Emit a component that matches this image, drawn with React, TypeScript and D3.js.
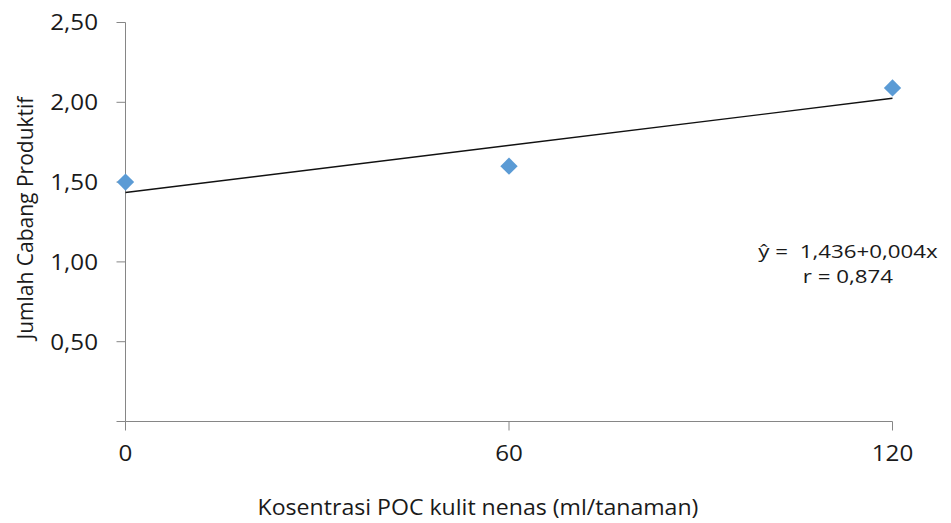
import React, { useEffect, useRef } from 'react';
import * as d3 from 'd3';

const doses = [0, 60, 120];
const branches = [1.5, 1.6, 2.09];
const yTicks = [0, 0.5, 1, 1.5, 2, 2.5];
const xTicks = [0, 60, 120];
const equation = ['ŷ =  1,436+0,004x', 'r = 0,874'];

const width = 951;
const height = 523;

const fmt = (v: number) => (v === 0 ? '0' : d3.format('.2f')(v).replace('.', ','));

export default function App() {
  const svgRef = useRef<SVGSVGElement>(null);

  useEffect(() => {
    if (!svgRef.current) return;
    const svg = d3.select(svgRef.current);
    svg.selectAll('*').remove();

    const font = '"Open Sans", sans-serif';
    const axisColor = '#868686';
    const textColor = '#1a1a1a';

    const x = d3.scaleLinear().domain([0, 120]).range([125.5, 892.5]);
    const y = d3.scaleLinear().domain([0, 2.5]).range([421.5, 22.5]);

    // y axis
    svg.append('line')
      .attr('x1', x(0)).attr('x2', x(0))
      .attr('y1', y(2.5)).attr('y2', y(0))
      .attr('stroke', axisColor);
    yTicks.forEach(t => {
      svg.append('line')
        .attr('x1', x(0) - 9).attr('x2', x(0))
        .attr('y1', y(t)).attr('y2', y(t))
        .attr('stroke', axisColor);
      if (t > 0) {
        svg.append('text')
          .attr('transform', `translate(98,${y(t)}) scale(1.1,1)`)
          .attr('text-anchor', 'end')
          .attr('dy', '0.36em')
          .style('font-family', font)
          .style('font-size', '22px')
          .attr('fill', textColor)
          .text(fmt(t));
      }
    });

    // x axis
    svg.append('line')
      .attr('x1', x(0)).attr('x2', x(120))
      .attr('y1', y(0)).attr('y2', y(0))
      .attr('stroke', axisColor);
    xTicks.forEach(t => {
      svg.append('line')
        .attr('x1', x(t)).attr('x2', x(t))
        .attr('y1', y(0)).attr('y2', y(0) + 9)
        .attr('stroke', axisColor);
      svg.append('text')
        .attr('transform', `translate(${x(t)},453) scale(1.1,1)`)
        .attr('text-anchor', 'middle')
        .attr('dy', '0.36em')
        .style('font-family', font)
        .style('font-size', '22px')
        .attr('fill', textColor)
        .text(String(t));
    });

    // axis titles
    svg.append('text')
      .attr('transform', `translate(478,515) scale(1.1,1)`)
      .attr('text-anchor', 'middle')
      .style('font-family', font)
      .style('font-size', '21px')
      .attr('fill', textColor)
      .text('Kosentrasi POC kulit nenas (ml/tanaman)');

    svg.append('text')
      .attr('transform', 'translate(33,218) rotate(-90)')
      .attr('text-anchor', 'middle')
      .style('font-family', font)
      .style('font-size', '21px')
      .attr('fill', textColor)
      .text('Jumlah Cabang Produktif');

    // trend line (least squares from the points)
    const mx = d3.mean(doses)!;
    const my = d3.mean(branches)!;
    const slope = d3.sum(doses, (d, i) => (d - mx) * (branches[i] - my)) /
      d3.sum(doses, d => (d - mx) ** 2);
    const intercept = my - slope * mx;
    const line = d3.line<number>().x(d => x(d)).y(d => y(intercept + slope * d));
    svg.append('path')
      .attr('d', line([0, 120]))
      .attr('fill', 'none')
      .attr('stroke', '#111')
      .attr('stroke-width', 1.4);

    // points
    const diamond = d3.symbol().type(d3.symbolSquare).size(150);
    svg.selectAll('.pt')
      .data(doses)
      .enter()
      .append('path')
      .attr('class', 'pt')
      .attr('d', diamond()!)
      .attr('transform', (d, i) => `translate(${x(d)},${y(branches[i])}) rotate(45)`)
      .attr('fill', '#5B9BD5');

    // equation
    equation.forEach((s, i) => {
      svg.append('text')
        .attr('transform', `translate(848,${258 + i * 25}) scale(1.24,1)`)
        .attr('text-anchor', 'middle')
        .style('font-family', font)
        .style('font-size', '18px')
        .style('white-space', 'pre')
        .attr('fill', textColor)
        .text(s);
    });
  }, []);

  return (
    <svg
      ref={svgRef}
      width={width}
      height={height}
      style={{ position: 'absolute', left: 0, top: 0, background: '#fff' }}
    />
  );
}
